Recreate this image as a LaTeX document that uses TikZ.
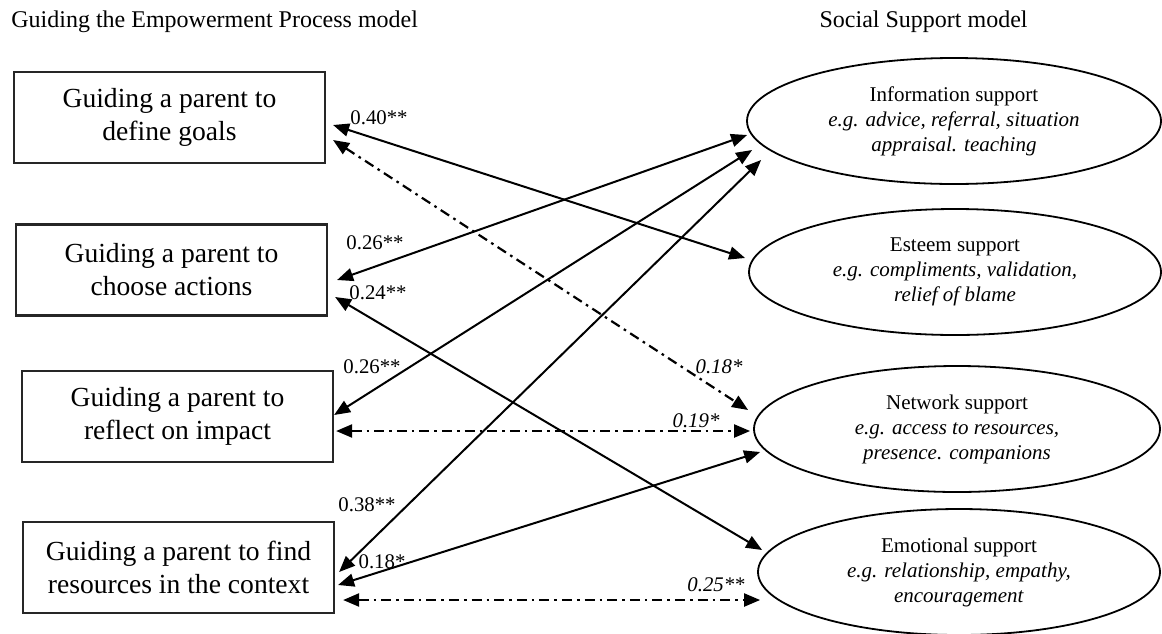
\documentclass[tikz,border=0pt]{standalone}
\usepackage{fontspec}
\setmainfont{Liberation Serif}
\usetikzlibrary{calc,shapes.geometric,arrows.meta}

\begin{document}
\begin{tikzpicture}[x=0.5pt, y=-0.5pt,
    guide/.style={draw=black!85, line width=1.1pt, inner sep=0pt, minimum width=155.5pt, minimum height=45.5pt, align=center, font=\fontsize{13.8}{16.5}\selectfont},
    support/.style={ellipse, draw, line width=0.9pt, inner sep=0pt, minimum height=63pt, align=center, font=\fontsize{10.5}{12.5}\selectfont},
    link/.style={{Triangle[length=8pt,width=6.5pt]}-{Triangle[length=8pt,width=6.5pt]}, line width=1pt},
    weak/.style={link, line width=1.1pt, dash pattern=on 5pt off 2.5pt on 1.3pt off 2.5pt},
    coef/.style={font=\fontsize{10.4}{12}\selectfont, inner sep=0pt},
    heading/.style={font=\fontsize{12}{14}\selectfont, inner sep=0pt}]

    \useasboundingbox (0,0) rectangle (1162,633);

    \node [heading, anchor=west] (left title) at (11,22) {Guiding the Empowerment Process model};
    \node [heading, anchor=east] (right title) at (1028,22) {Social Support model};

    \node [guide] (goals) at (169.5,117.5) {Guiding a parent to\\define goals};
    \node [guide] (actions) at (171.5,270) {Guiding a parent to\\choose actions};
    \node [guide] (impact) at (177.5,416.5) {Guiding a parent to\\reflect on impact};
    \node [guide] (resources) at (178.5,567.5) {Guiding a parent to find\\resources in the context};

    \node [support, minimum width=207pt] (info) at (954,121) {Information support\\\textit{e.g. advice, referral, situation}\\\textit{appraisal. teaching}};
    \node [support, minimum width=206pt] (esteem) at (955,272) {Esteem support\\\textit{e.g. compliments, validation,}\\\textit{relief of blame}};
    \node [support, minimum width=203pt] (network) at (957,429) {Network support\\\textit{e.g. access to resources,}\\\textit{presence. companions}};
    \node [support, minimum width=201pt] (emotional) at (959,572) {Emotional support\\\textit{e.g. relationship, empathy,}\\\textit{encouragement}};

    \draw [link] ($(goals.east)+(7,7.5)$) -- ($(esteem.west)+(-3,-14)$);
    \draw [weak] ($(goals.east)+(7,22.5)$) -- ($(network.west)+(-5,-19)$);
    \draw [link] ($(actions.east)+(9,10)$) -- ($(info.west)+(1,14)$);
    \draw [link] ($(actions.east)+(7,27)$) -- ($(emotional.west)+(5,-22)$);
    \draw [link] ($(impact.east)+(0,-1.5)$) -- ($(info.west)+(6,29)$);
    \draw [weak] ($(impact.east)+(2,14.5)$) -- ($(network.west)+(-3,2)$);
    \draw [link] ($(resources.east)+(4,4.5)$) -- ($(info.west)+(15,39)$);
    \draw [link] ($(resources.east)+(3,17.5)$) -- ($(network.west)+(7,23)$);
    \draw [weak] ($(resources.east)+(8,32.5)$) -- ($(emotional.west)+(3,28)$);

    \node [coef] (c goals esteem) at (379,118) {0.40**};
    \node [coef] (c actions info) at (375,243) {0.26**};
    \node [coef] (c actions emotional) at (378,293) {0.24**};
    \node [coef] (c impact info) at (372,367) {0.26**};
    \node [coef] (c goals network) at (719,367) {\textit{0.18*}};
    \node [coef] (c impact network) at (696,421) {\textit{0.19*}};
    \node [coef] (c resources info) at (367,505) {0.38**};
    \node [coef] (c resources network) at (382,562) {0.18*};
    \node [coef] (c resources emotional) at (716,585) {\textit{0.25**}};
\end{tikzpicture}
\end{document}
